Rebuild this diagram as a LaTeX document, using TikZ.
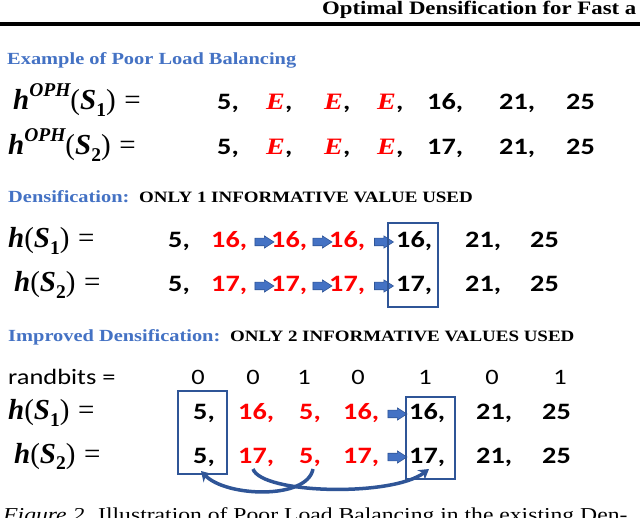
\documentclass[tikz,border=0pt]{standalone}
\usepackage{fontspec}
\setmainfont{Liberation Serif}
\newfontfamily\numfont{Carlito}
\usetikzlibrary{shapes.arrows,arrows.meta}
\definecolor{hblue}{HTML}{4472C4}
\definecolor{dblue}{HTML}{2F5597}
\definecolor{vred}{HTML}{FF0000}
\newcommand{\mysub}[1]{\raisebox{-0.22em}{\fontsize{19.5}{19.5}\selectfont\bfseries\upshape #1}}
\newcommand{\mysup}[1]{\raisebox{0.45em}{\fontsize{19.5}{19.5}\selectfont\bfseries\itshape #1}}
\newcommand{\hlab}[2]{\textbf{\textit{h}}#1(\textbf{\textit{S}}\mysub{#2})\hspace{0.3em}=}
\newcommand{\redE}{\textcolor{vred}{\rmfamily\bfseries\itshape E}}
\begin{document}
\begin{tikzpicture}[x=1pt,y=-1pt,
  val/.style={anchor=base west, inner sep=0pt, font=\numfont\bfseries\fontsize{23.5}{23.5}\selectfont},
  rval/.style={val, text=vred},
  bit/.style={anchor=base, inner sep=0pt, font=\numfont\fontsize{22}{22}\selectfont},
  lab/.style={anchor=base west, inner sep=0pt, font=\fontsize{29}{29}\selectfont},
  head/.style={anchor=base west, inner sep=0pt, text=hblue, font=\bfseries\fontsize{17}{17}\selectfont},
  note/.style={anchor=base west, inner sep=0pt, font=\bfseries\fontsize{15.8}{16}\selectfont},
  barrow/.style={single arrow, draw=dblue, fill=hblue, line width=0.6pt, minimum height=15.8pt,
    inner xsep=0pt, inner ysep=3.5pt, single arrow head extend=2.3pt, single arrow tip angle=75, outer sep=0pt},
  selbox/.style={draw=dblue, line width=2pt, inner sep=0pt},
  curvearrow/.style={draw=dblue, line width=3.5pt, -{Stealth[length=10pt,width=12pt]}}
]
\useasboundingbox (0,0) rectangle (640,518);
\clip (0,0) rectangle (640,518);
\fill[white] (0,0) rectangle (640,518);

% rule
\coordinate (rl) at (0,24);
\coordinate (rr) at (640,24);
\draw[line width=3.5pt] (rl) -- (rr);

% formula labels (unstretched)
\node[lab] (o1) at (13,110) {\hlab{\mysup{OPH}}{1}};
\node[lab] (o2) at (8,155) {\hlab{\mysup{OPH}}{2}};
\node[lab] (d1) at (8,248) {\hlab{}{1}};
\node[lab] (d2) at (14,292) {\hlab{}{2}};
\node[lab] (i1) at (8,420) {\hlab{}{1}};
\node[lab] (i2) at (14,463) {\hlab{}{2}};

\begin{scope}[x=0.833333pt, xscale=1.2, transform shape]
% header
\node[anchor=base west, inner sep=0pt, font=\bfseries\fontsize{19}{19}\selectfont] (title) at (322,14.5) {Optimal Densification for Fast a};

% section 1
\node[head] (h1) at (7,65) {Example of Poor Load Balancing};
\foreach \r/\y/\v in {1/110/16, 2/155/17} {
  \node[val] (o\r a) at (217,\y) {5,};
  \node[val] (o\r b) at (266,\y) {\redE,};
  \node[val] (o\r c) at (324,\y) {\redE,};
  \node[val] (o\r d) at (377,\y) {\redE,};
  \node[val] (o\r e) at (427,\y) {\v,};
  \node[val] (o\r f) at (499,\y) {21,};
  \node[val] (o\r g) at (566,\y) {25};
}

% section 2
\node[head] (h2) at (8,203) {Densification:};
\node[note] (n2) at (139,203) {ONLY 1 INFORMATIVE VALUE USED};
\foreach \r/\y/\v in {1/248/16, 2/292/17} {
  \node[val] (d\r a) at (168,\y) {5,};
  \node[rval] (d\r b) at (211,\y) {\v,};
  \node[rval] (d\r c) at (271,\y) {\v,};
  \node[rval] (d\r d) at (329,\y) {\v,};
  \node[val] (d\r e) at (396,\y) {\v,};
  \node[val] (d\r f) at (465,\y) {21,};
  \node[val] (d\r g) at (530,\y) {25};
  \node[barrow] (d\r x) at (261.5,\y-6) {};
  \node[barrow] (d\r y) at (319.5,\y-6) {};
  \node[barrow] (d\r z) at (381,\y-6) {};
}

% section 3
\node[head] (h3) at (8,342) {Improved Densification:};
\node[note] (n3) at (230,342) {ONLY 2 INFORMATIVE VALUES USED};
\node[anchor=base west, inner sep=0pt, font=\numfont\fontsize{22}{22}\selectfont] (rb) at (8,385) {randbits =};
\foreach \b/\x [count=\i] in {0/198, 0/253, 1/304, 0/358, 1/425, 0/492, 1/560} {
  \node[bit] (bit\i) at (\x,385) {\b};
}
\foreach \r/\y/\v in {1/420/16, 2/463/17} {
  \node[val] (i\r a) at (193,\y) {5,};
  \node[rval] (i\r b) at (238,\y) {\v,};
  \node[rval] (i\r c) at (299,\y) {5,};
  \node[rval] (i\r d) at (343,\y) {\v,};
  \node[val] (i\r e) at (409,\y) {\v,};
  \node[val] (i\r f) at (476,\y) {21,};
  \node[val] (i\r g) at (542,\y) {25};
  \node[barrow] (i\r x) at (394.5,\y-6) {};
}

% caption
\node[anchor=base west, inner sep=0pt, font=\fontsize{19.7}{20}\selectfont] (cap) at (3,521.5) {\textit{Figure 2.} Illustration of Poor Load Balancing in the existing Den-};
\end{scope}

% selection boxes
\node[selbox, minimum width=50pt, minimum height=84pt] (dbox) at (413,265) {};
\node[selbox, minimum width=49pt, minimum height=83pt] (ibox1) at (202.5,432.5) {};
\node[selbox, minimum width=49pt, minimum height=82pt] (ibox2) at (430.5,438) {};

% curved arrows
\coordinate (ca0) at (253,469);
\coordinate (ca1) at (429,469);
\coordinate (cb0) at (313,469);
\coordinate (cb1) at (201,471);
\draw[curvearrow] (ca0) .. controls (262,494) and (392,497) .. (ca1);
\draw[curvearrow] (cb0) .. controls (307,500) and (226,497) .. (cb1);
\end{tikzpicture}
\end{document}
